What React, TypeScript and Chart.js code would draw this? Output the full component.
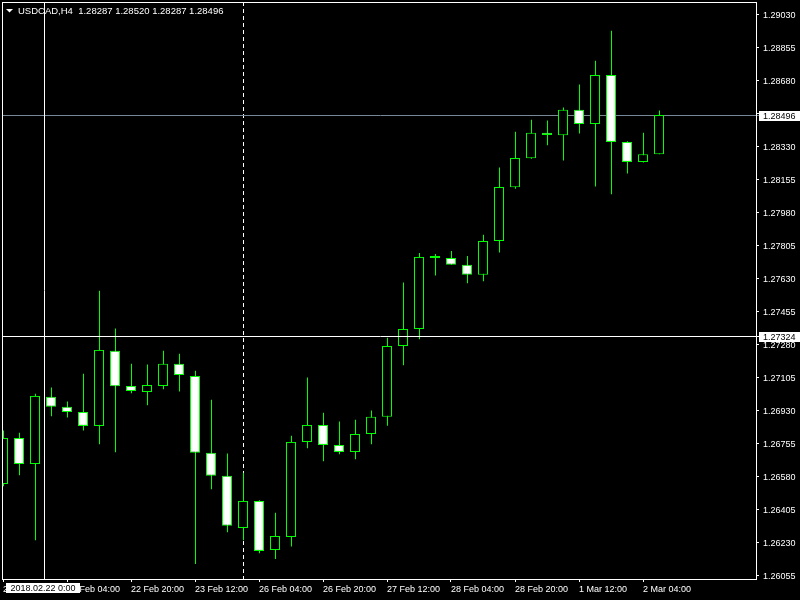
import React, { useEffect, useRef } from 'react';
import { Chart, registerables } from 'chart.js';

Chart.register(...registerables);

// ---------- data ----------
const symbolTitle = 'USDCAD,H4';
const lastOHLC = ['1.28287', '1.28520', '1.28287', '1.28496'];

const barTimes = [
  '21 Feb 12:00', '21 Feb 16:00', '21 Feb 20:00', '22 Feb 00:00', '22 Feb 04:00', '22 Feb 08:00',
  '22 Feb 12:00', '22 Feb 16:00', '22 Feb 20:00', '23 Feb 00:00', '23 Feb 04:00', '23 Feb 08:00',
  '23 Feb 12:00', '23 Feb 16:00', '23 Feb 20:00', '26 Feb 00:00', '26 Feb 04:00', '26 Feb 08:00',
  '26 Feb 12:00', '26 Feb 16:00', '26 Feb 20:00', '27 Feb 00:00', '27 Feb 04:00', '27 Feb 08:00',
  '27 Feb 12:00', '27 Feb 16:00', '27 Feb 20:00', '28 Feb 00:00', '28 Feb 04:00', '28 Feb 08:00',
  '28 Feb 12:00', '28 Feb 16:00', '28 Feb 20:00', '1 Mar 00:00', '1 Mar 04:00', '1 Mar 08:00',
  '1 Mar 12:00', '1 Mar 16:00', '1 Mar 20:00', '2 Mar 00:00', '2 Mar 04:00', '2 Mar 08:00',
];

const opens = [
  1.26539, 1.26783, 1.26645, 1.27001, 1.26948, 1.26921, 1.26847, 1.27245, 1.27059, 1.27027,
  1.27059, 1.27176, 1.27112, 1.26704, 1.26582, 1.26306, 1.26449, 1.26189, 1.26258, 1.26762,
  1.26852, 1.26746, 1.26709, 1.26804, 1.26895, 1.27271, 1.27361, 1.27738, 1.27738, 1.27701,
  1.27648, 1.27828, 1.28112, 1.28266, 1.28401, 1.28388, 1.28523, 1.28448, 1.28708, 1.28353,
  1.28247, 1.28287,
];
const highs = [
  1.26822, 1.26811, 1.27018, 1.27050, 1.26976, 1.27124, 1.27564, 1.27363, 1.27177, 1.27172,
  1.27246, 1.27230, 1.27140, 1.26986, 1.26700, 1.26598, 1.26452, 1.26387, 1.26795, 1.27103,
  1.26917, 1.26870, 1.26880, 1.26928, 1.27315, 1.27607, 1.27764, 1.27759, 1.27775, 1.27748,
  1.27861, 1.28217, 1.28407, 1.28471, 1.28466, 1.28535, 1.28657, 1.28784, 1.28943, 1.28356,
  1.28402, 1.28520,
];
const lows = [
  1.26527, 1.26585, 1.26240, 1.26898, 1.26892, 1.26823, 1.26749, 1.26707, 1.27020, 1.26956,
  1.27041, 1.27030, 1.26114, 1.26511, 1.26283, 1.26240, 1.26171, 1.26141, 1.26208, 1.26728,
  1.26659, 1.26696, 1.26670, 1.26749, 1.26848, 1.27168, 1.27306, 1.27645, 1.27701, 1.27603,
  1.27614, 1.27767, 1.28105, 1.28264, 1.28335, 1.28255, 1.28398, 1.28117, 1.28075, 1.28186,
  1.28244, 1.28287,
];
const closes = [
  1.26783, 1.26645, 1.27006, 1.26948, 1.26921, 1.26847, 1.27250, 1.27057, 1.27032, 1.27064,
  1.27176, 1.27117, 1.26704, 1.26582, 1.26317, 1.26449, 1.26184, 1.26263, 1.26762, 1.26852,
  1.26746, 1.26709, 1.26804, 1.26895, 1.27271, 1.27361, 1.27743, 1.27741, 1.27701, 1.27648,
  1.27828, 1.28114, 1.28268, 1.28401, 1.28390, 1.28523, 1.28448, 1.28708, 1.28353, 1.28247,
  1.28287, 1.28496,
];

const xTickIndex = [0, 4, 8, 12, 16, 20, 24, 28, 32, 36, 40];
const yTicks = [
  1.29030, 1.28855, 1.28680, 1.28505, 1.28330, 1.28155, 1.27980, 1.27805, 1.27630,
  1.27455, 1.27280, 1.27105, 1.26930, 1.26755, 1.26580, 1.26405, 1.26230, 1.26055,
];

const bidPrice = 1.28496;
const crossPrice = 1.27324;
const crossIndex = 2.5625;
const crossTimeLabel = '2018.02.22 0:00';
const separatorIndex = 15;

// visible window (bar index units / price units)
const xMin = -0.0625;
const xMax = 47.0625;
const yMin = 1.26035;
const yMax = 1.29095;

// ---------- style ----------
const GREEN = '#00ff00';
const FONT_FAMILY = '"Liberation Sans", Arial, sans-serif';
const FONT = `9px ${FONT_FAMILY}`;
const TITLE_FONT = `9.5px ${FONT_FAMILY}`;

const mtPlugin = {
  id: 'mtOverlay',
  beforeDatasetsDraw(chart: any) {
    const { ctx, chartArea: a, scales } = chart;
    const xs = scales.x;
    const ys = scales.y;
    ctx.save();
    // period separator (dashed)
    const sx = Math.round(xs.getPixelForValue(separatorIndex)) + 0.5;
    ctx.strokeStyle = '#ffffff';
    ctx.lineWidth = 1;
    ctx.setLineDash([4, 3]);
    ctx.beginPath();
    ctx.moveTo(sx, a.top);
    ctx.lineTo(sx, a.bottom);
    ctx.stroke();
    ctx.setLineDash([]);
    // bid line
    const by = Math.round(ys.getPixelForValue(bidPrice)) + 0.5;
    ctx.strokeStyle = '#778899';
    ctx.beginPath();
    ctx.moveTo(a.left, by);
    ctx.lineTo(a.right + 3, by);
    ctx.stroke();
    ctx.restore();
  },
  afterDraw(chart: any) {
    const { ctx, chartArea: a, scales } = chart;
    const xs = scales.x;
    const ys = scales.y;
    ctx.save();
    // frame
    ctx.strokeStyle = '#ffffff';
    ctx.lineWidth = 1;
    ctx.strokeRect(a.left + 0.5, a.top + 0.5, a.right - a.left, a.bottom - a.top);

    // title
    ctx.fillStyle = '#ffffff';
    ctx.beginPath();
    ctx.moveTo(6, 9);
    ctx.lineTo(13, 9);
    ctx.lineTo(9.5, 12.5);
    ctx.closePath();
    ctx.fill();
    ctx.font = TITLE_FONT;
    ctx.textBaseline = 'middle';
    ctx.textAlign = 'left';
    ctx.fillText(`${symbolTitle}  ${lastOHLC.join(' ')}`, 18, 11);

    // crosshair
    const cx = Math.round(xs.getPixelForValue(crossIndex)) + 0.5;
    const cy = Math.round(ys.getPixelForValue(crossPrice)) + 0.5;
    ctx.strokeStyle = '#ffffff';
    ctx.beginPath();
    ctx.moveTo(a.left, cy);
    ctx.lineTo(a.right + 3, cy);
    ctx.moveTo(cx, a.top);
    ctx.lineTo(cx, a.bottom);
    ctx.stroke();

    // price boxes on the axis
    ctx.font = FONT;
    const by = Math.round(ys.getPixelForValue(bidPrice));
    const cyr = Math.round(ys.getPixelForValue(crossPrice));
    ctx.fillStyle = '#ffffff';
    ctx.fillRect(a.right + 3, by - 4, 41, 10);
    ctx.fillRect(a.right + 3, cyr - 4, 41, 10);
    ctx.fillStyle = '#000000';
    ctx.fillText(bidPrice.toFixed(5), a.right + 7, by + 1.5);
    ctx.fillText(crossPrice.toFixed(5), a.right + 7, cyr + 1.5);

    // time box on the x axis
    const cxr = Math.round(xs.getPixelForValue(crossIndex));
    ctx.fillStyle = '#ffffff';
    ctx.fillRect(cxr - 38, a.bottom + 4, 74, 10);
    ctx.fillStyle = '#000000';
    ctx.textAlign = 'center';
    ctx.fillText(crossTimeLabel, cxr - 1, a.bottom + 9.5);
    ctx.restore();
  },
};

export default function App() {
  const ref = useRef<HTMLCanvasElement>(null);

  useEffect(() => {
    document.body.style.margin = '0';
    document.body.style.background = '#000';
    Chart.defaults.font.family = FONT_FAMILY;
    Chart.defaults.font.size = 9;
    Chart.defaults.color = '#ffffff';

    const bodyData = opens.map((o, i) => ({ x: i, y: [o, closes[i]] }));
    const wickData = lows.map((l, i) => ({ x: i, y: [l, highs[i]] }));
    const bodyFill = opens.map((o, i) => (closes[i] >= o ? '#000000' : '#ffffff'));

    const chart = new Chart(ref.current as HTMLCanvasElement, {
      type: 'bar',
      data: {
        datasets: [
          {
            label: 'body',
            data: bodyData as any,
            xAxisID: 'x',
            yAxisID: 'y',
            grouped: false,
            backgroundColor: bodyFill,
            borderColor: GREEN,
            borderWidth: 1,
            borderSkipped: false,
            barThickness: 10,
            maxBarThickness: 10,
            minBarLength: 2,
            inflateAmount: 0,
          } as any,
          {
            label: 'wick',
            data: wickData as any,
            xAxisID: 'x2',
            yAxisID: 'y',
            grouped: false,
            backgroundColor: GREEN,
            borderWidth: 0,
            barThickness: 1,
            maxBarThickness: 1,
            inflateAmount: 0,
          } as any,
        ],
      },
      options: {
        animation: false,
        responsive: false,
        maintainAspectRatio: false,
        devicePixelRatio: 1,
        layout: { padding: { left: 2, top: 2, right: 0, bottom: 0 } },
        plugins: {
          legend: { display: false },
          tooltip: { enabled: false },
        },
        scales: {
          x: {
            type: 'linear',
            position: 'bottom',
            min: xMin,
            max: xMax,
            offset: false,
            border: { display: false },
            grid: {
              offset: false,
              drawOnChartArea: false,
              drawTicks: true,
              tickLength: 3,
              color: '#ffffff',
            },
            ticks: {
              align: 'start',
              autoSkip: false,
              maxRotation: 0,
              minRotation: 0,
              padding: 2,
              color: '#ffffff',
              font: { family: FONT_FAMILY, size: 9 },
              callback: (v: any) => barTimes[Math.round(Number(v))] ?? '',
            },
            afterBuildTicks: (s: any) => {
              s.ticks = xTickIndex.map((v) => ({ value: v }));
            },
            afterFit: (s: any) => {
              s.height = 21;
              s.paddingLeft = 0;
              s.paddingRight = 0;
            },
          },
          x2: {
            type: 'linear',
            display: false,
            min: xMin - 0.5 / 16,
            max: xMax - 0.5 / 16,
            offset: false,
          },
          y: {
            type: 'linear',
            position: 'right',
            min: yMin,
            max: yMax,
            beginAtZero: false,
            border: { display: false },
            grid: {
              drawOnChartArea: false,
              drawTicks: true,
              tickLength: 3,
              color: '#ffffff',
            },
            ticks: {
              autoSkip: false,
              padding: 4,
              labelOffset: 1,
              color: '#ffffff',
              font: { family: FONT_FAMILY, size: 9 },
              callback: (v: any) => Number(v).toFixed(5),
            },
            afterBuildTicks: (s: any) => {
              s.ticks = yTicks.map((v) => ({ value: v }));
            },
            afterFit: (s: any) => {
              s.width = 44;
              s.paddingTop = 0;
              s.paddingBottom = 0;
            },
          },
        },
      } as any,
      plugins: [mtPlugin],
    });

    return () => chart.destroy();
  }, []);

  return (
    <div style={{ width: 800, height: 600, background: '#000' }}>
      <canvas ref={ref} width={800} height={600} style={{ display: 'block', width: 800, height: 600 }} />
    </div>
  );
}
